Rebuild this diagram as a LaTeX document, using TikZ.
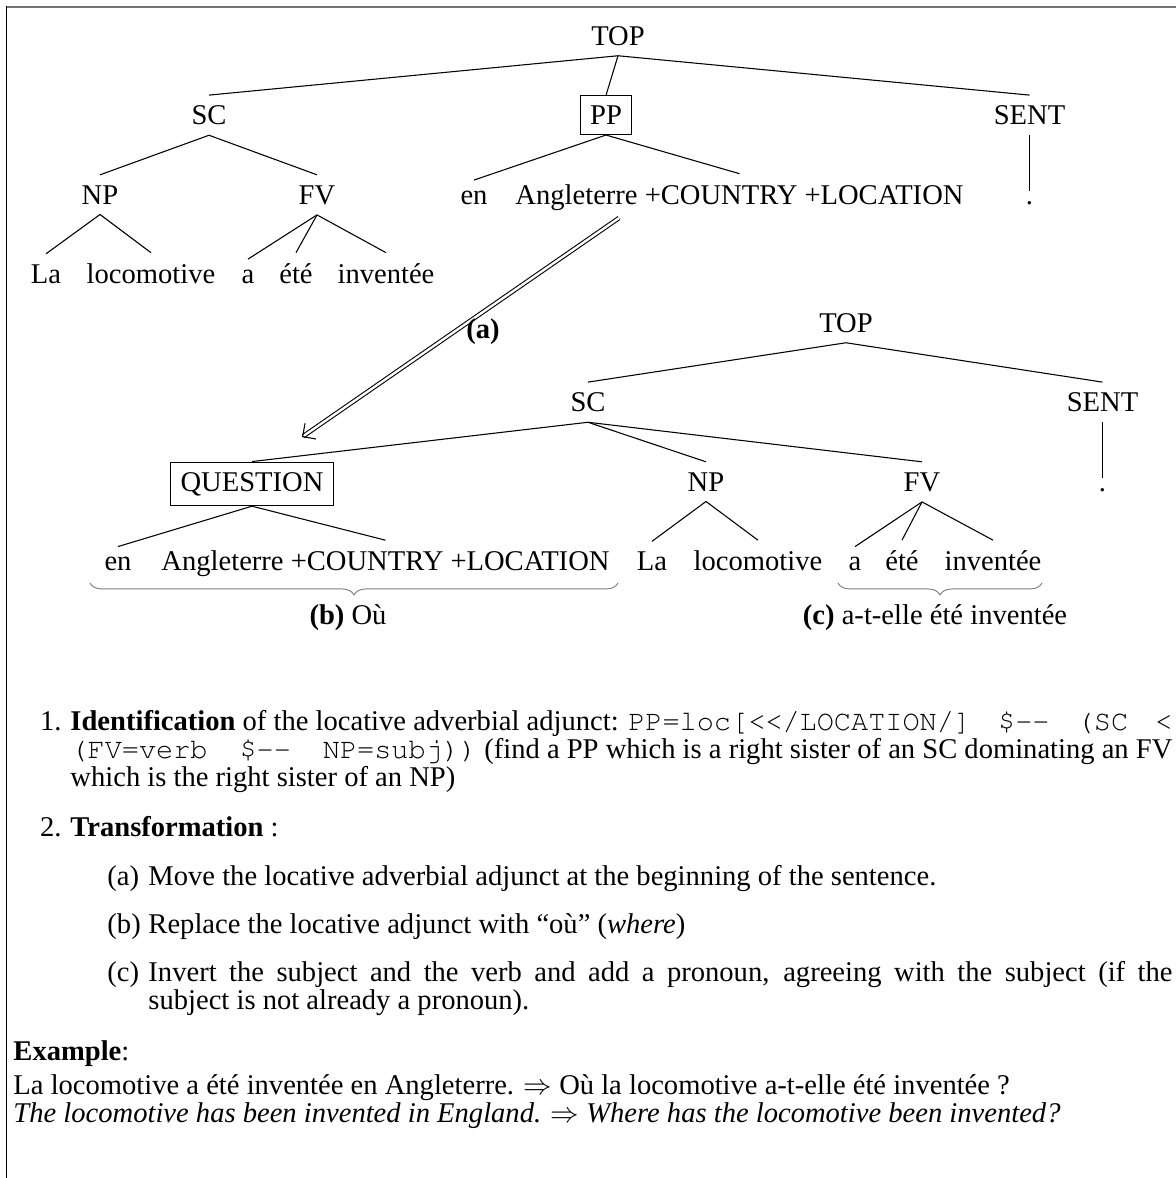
\documentclass[tikz,border=0pt]{standalone}
\usepackage[T1]{fontenc}
\usepackage{fontspec}
\setmainfont{Liberation Serif}
\setmonofont{Liberation Mono}
\usetikzlibrary{
        arrows.meta,
        decorations.pathreplacing
    }
\newcommand{\cour}[1]{{\fontencoding{T1}\fontfamily{pcr}\selectfont #1}}
\newcommand{\tsp}{\hskip 0.6em plus 1fil\relax}
\tikzset{x=0.42pt,y=-0.42pt}
\tikzset{cat/.style={inner sep=4.2pt,anchor=base,font=\fontsize{12}{14.4}\selectfont},
        catbox/.style={cat,draw,line width=0.45pt},
        branch/.style={line width=0.45pt},
        movearrow/.style={double,double distance=1pt,line width=0.45pt,-{Straight Barb[length=4pt,width=8pt]}},
        underbrace/.style={decorate,decoration={brace,mirror,amplitude=5pt},draw=black!50,line width=0.4pt},
        txt/.style={inner sep=0pt,anchor=base west,font=\fontsize{12}{11.76}\selectfont},
        txtpar/.style={txt,align=justify,text width=#1}}

\begin{document}
\begin{tikzpicture}
                \useasboundingbox (0,0) rectangle (1176,1178);
                % frame
                \draw[line width=0.9pt,black!55] (6,6.7) -- (1176,6.7);
                \draw[line width=0.6pt] (6.5,6) -- (6.5,1178);
                % source tree
                \node[cat] (top1) at (618,45) {TOP};
                \node[cat] (sc1) at (209,124.5) {SC};
                \node[catbox] (pp1) at (606,124.5) {PP};
                \node[cat] (sent1) at (1029.5,124.5) {SENT};
                \node[cat] (np1) at (100,204) {NP};
                \node[cat] (fv1) at (317,204) {FV};
                \node[cat] (en1) at (474,204) {en};
                \node[cat] (ang1) at (739.5,204) {Angleterre +COUNTRY +LOCATION};
                \node[cat] (dot1) at (1029.5,204) {.};
                \node[cat] (la1) at (46,283) {La};
                \node[cat] (loco1) at (151,283) {locomotive};
                \node[cat] (a1) at (248,283) {a};
                \node[cat] (ete1) at (296,283) {été};
                \node[cat] (inv1) at (386,283) {inventée};
                \path[branch]
                    (top1.south) edge (sc1.north)
                    (top1.south) edge (pp1.north)
                    (top1.south) edge (sent1.north)
                    (sc1.south) edge (np1.north)
                    (sc1.south) edge (fv1.north)
                    (pp1.south) edge (en1.north)
                    (pp1.south) edge (ang1.north)
                    (sent1.south) edge (dot1.north)
                    (np1.south) edge (la1.north)
                    (np1.south) edge (loco1.north)
                    (fv1.south) edge (a1.north)
                    (fv1.south) edge (ete1.north)
                    (fv1.south) edge (inv1.north);
                % movement
                \coordinate (mvfrom) at (619,218);
                \coordinate (mvto) at (302,437);
                \draw[movearrow] (mvfrom) -- (mvto);
                \node[cat] (stepa) at (483,338) {\textbf{(a)}};
                % result tree
                \node[cat] (top2) at (846,332) {TOP};
                \node[cat] (sc2) at (588,411.5) {SC};
                \node[cat] (sent2) at (1102.5,411.5) {SENT};
                \node[catbox] (q2) at (252,491) {QUESTION};
                \node[cat] (np2) at (706,491) {NP};
                \node[cat] (fv2) at (922,491) {FV};
                \node[cat] (dot2) at (1102.5,491) {.};
                \node[cat] (en2) at (118,570.5) {en};
                \node[cat] (ang2) at (385.5,570.5) {Angleterre +COUNTRY +LOCATION};
                \node[cat] (la2) at (652,570.5) {La};
                \node[cat] (loco2) at (758,570.5) {locomotive};
                \node[cat] (a2) at (855,570.5) {a};
                \node[cat] (ete2) at (902,570.5) {été};
                \node[cat] (inv2) at (993,570.5) {inventée};
                \path[branch]
                    (top2.south) edge (sc2.north)
                    (top2.south) edge (sent2.north)
                    (sc2.south) edge (q2.north)
                    (sc2.south) edge (np2.north)
                    (sc2.south) edge (fv2.north)
                    (sent2.south) edge (dot2.north)
                    (q2.south) edge (en2.north)
                    (q2.south) edge (ang2.north)
                    (np2.south) edge (la2.north)
                    (np2.south) edge (loco2.north)
                    (fv2.south) edge (a2.north)
                    (fv2.south) edge (ete2.north)
                    (fv2.south) edge (inv2.north);
                % braces
                \draw[underbrace] (90,583) -- (618,583);
                \draw[underbrace] (838,583) -- (1042,583);
                \node[cat] (stepb) at (348,624) {\textbf{(b)} Où};
                \node[cat] (stepc) at (935,624) {\textbf{(c)} a-t-elle été inventée};
                % rule text
                \node[txt,anchor=base east] (lbl1) at (62,730) {1.};
                \node[txtpar=462.8pt] (item1) at (70,730) {\textbf{Identification} of the locative adverbial adjunct: \cour{PP=loc[<{}</LOCATION/]}\tsp\cour{\$-{}-}\tsp\cour{(SC}\tsp\cour{<}\linebreak
                    \cour{(FV=verb}\tsp\cour{\$-{}-}\tsp\cour{NP=subj))} (find a PP which is a right sister of an SC dominating an FV\linebreak
                    which is the right sister of an NP)};
                \node[txt,anchor=base east] (lbl2) at (62,836) {2.};
                \node[txt] (item2) at (70,836) {\textbf{Transformation} :};
                \node[txt] (lbla) at (107,885) {(a)};
                \node[txt] (itema) at (148,885) {Move the locative adverbial adjunct at the beginning of the sentence.};
                \node[txt] (lblb) at (107,933) {(b)};
                \node[txt] (itemb) at (148,933) {Replace the locative adjunct with “où” (\emph{where})};
                \node[txt] (lblc) at (107,981) {(c)};
                \node[txtpar=430.1pt] (itemc) at (148,981) {Invert the subject and the verb and add a pronoun, agreeing with the subject (if the\linebreak
                    subject is not already a pronoun).};
                \node[txtpar=480pt] (example) at (13,1060) {\textbf{Example}:\\[2.9pt]
                    La locomotive a été inventée en Angleterre. $\Rightarrow$ Où la locomotive a-t-elle été inventée ?\\
                    \emph{The locomotive has been invented in England.} $\Rightarrow$ \emph{Where has the locomotive been invented?}};
\end{tikzpicture}
\end{document}
